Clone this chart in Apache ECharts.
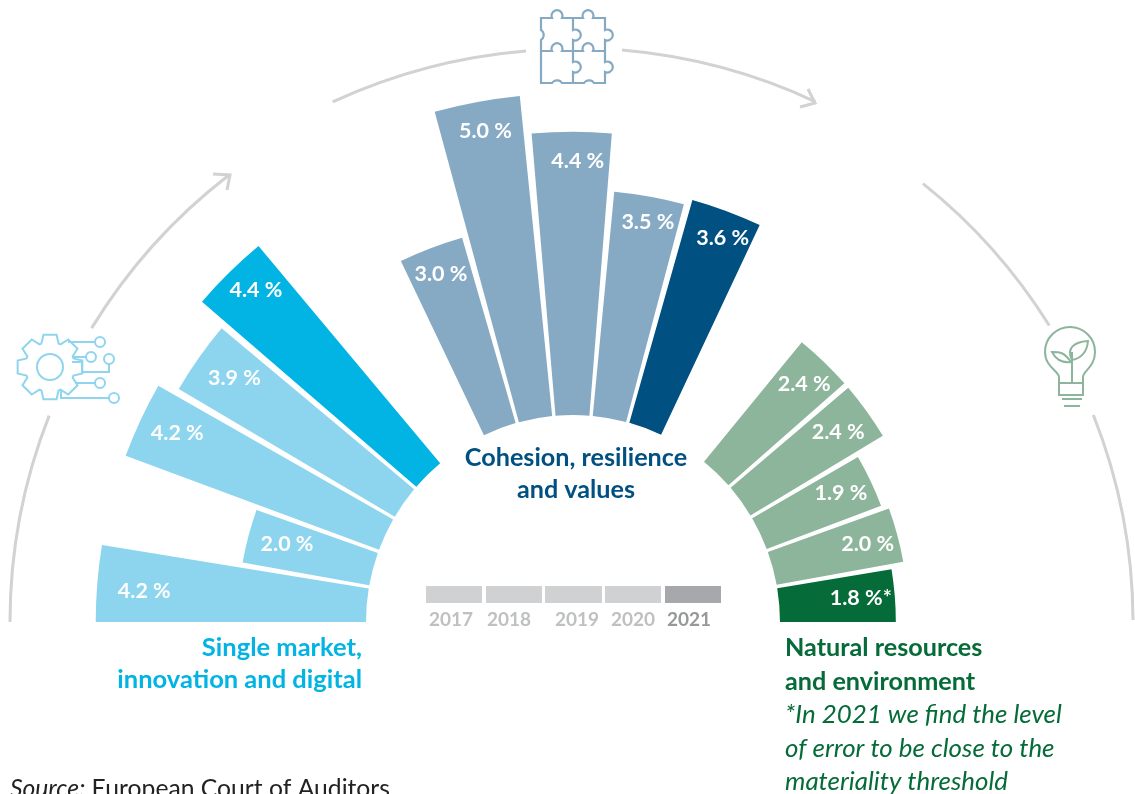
<!DOCTYPE html>
<html><head><meta charset="utf-8">
<style>html,body{margin:0;padding:0;background:#fff}#c{width:1135px;height:794px}</style>
<script src="https://cdn.jsdelivr.net/npm/echarts@6/dist/echarts.min.js"></script></head>
<body><div id="c"></div>
<script>
const years = ['2017','2018','2019','2020','2021'];
const singleMarket = [4.2, 2.0, 4.2, 3.9, 4.4];
const cohesion = [3.0, 5.0, 4.4, 3.5, 3.6];
const naturalResources = [2.4, 2.4, 1.9, 2.0, 1.8];

const FONT = 'Lato, "Open Sans", sans-serif';
const CX = 573, CY = 622, R0 = 207, UNIT = 64.35, VMAX = 5.5;
const rMin = -R0 / UNIT;
const groups = [
  {values: singleMarket, start: 180.46, end: 129.46, light: '#8DD5EE', dark: '#02B4E3',
    nudges: [[33,-4],[25,-7],[24,-4],[24,1],[17,-4]]},
  {values: cohesion, start: 115.95, end: 64.35, light: '#87AAC4', dark: '#005082',
    nudges: [[5,2],[6,4],[6,4],[1,1],[1,3]]},
  {values: naturalResources, start: 51.2, end: -0.46, light: '#8DB59C', dark: '#056B38',
    nudges: [[-10,1],[-17,2],[-17,-5],[-16,-5],[-20,-10]]}
];
const polar = [], angleAxis = [], radiusAxis = [], series = [];
groups.forEach((g, i) => {
  polar.push({center: [CX, CY], radius: [0, (VMAX - rMin) * UNIT]});
  angleAxis.push({polarIndex: i, type: 'category', data: years, startAngle: g.start, endAngle: g.end, clockwise: true, show: false,
    axisLine:{show:false}, axisTick:{show:false}, axisLabel:{show:false}, splitLine:{show:false}});
  radiusAxis.push({polarIndex: i, type: 'value', min: rMin, max: VMAX, show: false,
    axisLine:{show:false}, axisTick:{show:false}, axisLabel:{show:false}, splitLine:{show:false}});
  series.push({type: 'bar', coordinateSystem: 'polar', polarIndex: i, barCategoryGap: '9%', silent: true, animation: false,
    data: g.values.map((v, k) => ({value: v, label: {offset: g.nudges[k]}})),
    itemStyle: {color: p => p.dataIndex === 4 ? g.dark : g.light},
    label: {show: true, position: 'insideEnd', distance: 14, rotate: 0, color: '#fff', fontFamily: FONT, fontWeight: 'bold', fontSize: 21.5,
      formatter: p => p.value.toFixed(1) + ' %' + (i === 2 && p.dataIndex === 4 ? '*' : '')}});
});

const D = Math.PI / 180;
const gray = '#D2D2D2';
const arc = (r, a, b) => ({type: 'arc', silent: true, shape: {cx: CX, cy: CY, r, startAngle: a * D, endAngle: b * D, clockwise: true},
  style: {stroke: gray, lineWidth: 3, fill: null, lineCap: 'butt'}});
const line = (pts, color, w) => ({type: 'polyline', silent: true, shape: {points: pts}, style: {stroke: color, lineWidth: w, fill: null}});
let pathId = 0;
const path = (d, color, w) => {
  const name = 'iconPath' + (pathId++);
  echarts.graphic.registerShape(name, echarts.graphic.extendPath(d, {}));
  return {type: name, silent: true, style: {stroke: color, lineWidth: w, fill: null}};
};
const circ = (x, y, r, color, w) => ({type: 'circle', silent: true, shape: {cx: x, cy: y, r}, style: {stroke: color, lineWidth: w, fill: null}});
const txt = (t, x, y, color, size, weight, align, style) => ({type: 'text', silent: true, x, y,
  style: {text: t, fill: color, fontFamily: FONT, fontSize: size, fontWeight: weight || 'normal', fontStyle: style || 'normal', align: align || 'left', verticalAlign: 'middle'}});

// gear outline
const gearPts = [];
(function(){
  const n = 8, cx = 50, cy = 367, ro = 33, ri = 25;
  for (let i = 0; i < n; i++) {
    const a = i * 2 * Math.PI / n - Math.PI / 2, s = 0.2, t = 0.3;
    [[ri, -t - 0.05], [ro, -s], [ro, s], [ri, t + 0.05]].forEach(([r, o]) => gearPts.push([cx + r * Math.cos(a + o), cy + r * Math.sin(a + o)]));
  }
  gearPts.push(gearPts[0]);
})();
const blue = '#8FD5EE', slate = '#87AAC4', sage = '#8DB59C';
const K = 'A5.5 5.5 0 1 1', N = 'A6 6 0 0 0';
const puzzle = `M541 18H552${K} 562 18H583${K} 593 18H605V30${K} 605 40V62${K} 605 72V83H594${N} 584 83H562${N} 552 83H541V40${N} 541 30Z`
  + `M573 18V30${K} 573 40V62${K} 573 72V83M541 51H552${K} 562 51H583${K} 593 51H605`;

const yearLegend = [[426,482,451],[486,542,509],[545,602,577],[605,661,633],[665,721,689]];
const graphic = [
  arc(563, 180, 201.5), arc(564, 211.4, 232.3), arc(573, 245.2, 265.3), arc(574, 274.9, 295), arc(561, 308.6, 328.1), arc(560, 338.3, 359.8),
  line([[213,174],[230,175],[227,190]], gray, 3), line([[808,89],[815,103],[800,107]], gray, 3),
  line(gearPts, blue, 2), circ(50, 367, 13, blue, 2),
  line([[68,342],[95,342]], blue, 2), circ(100,342,5,blue,2),
  line([[73,357],[86,357]], blue, 2), circ(91,357,5,blue,2),
  circ(109,359,5,blue,2), line([[109,364],[109,372],[82,372],[82,362],[72,362]], blue, 2),
  line([[75,383],[95,383]], blue, 2), circ(100,383,5,blue,2),
  line([[61,390],[61,398],[109,398]], blue, 2), circ(114,398,5,blue,2),
  path(puzzle, slate, 2.2),
  path('M1059 383V377C1059 371 1045 367 1045 352A25 25 0 1 1 1095 352C1095 367 1083 371 1083 377V383Z M1059 383V395H1083V383', sage, 2),
  line([[1062,399],[1082,399]], sage, 2), line([[1064,406],[1080,406]], sage, 2),
  line([[1072,382],[1072,352]], sage, 2),
  path('M1072 360C1066 348 1074 342 1088 341C1087 352 1082 358 1072 360Z', sage, 2),
  path('M1071 362C1064 352 1060 352 1052 352C1056 360 1062 363 1071 362Z', sage, 2),
  txt('Cohesion, resilience', 576, 458, '#005082', 25.2, 'bold', 'center'),
  txt('and values', 576, 490, '#005082', 25.2, 'bold', 'center'),
  txt('Single market,', 362, 648, '#02B4E3', 25.5, 'bold', 'right'),
  txt('innovation and digital', 362, 680, '#02B4E3', 25.5, 'bold', 'right'),
  txt('Natural resources', 785, 648, '#056B38', 25.2, 'bold'),
  txt('and environment', 785, 682, '#056B38', 25.2, 'bold'),
  txt('*In 2021 we find the level', 785, 715, '#056B38', 25.9, 'normal', 'left', 'italic'),
  txt('of error to be close to the', 785, 749, '#056B38', 25.9, 'normal', 'left', 'italic'),
  txt('materiality threshold', 785, 782, '#056B38', 25.9, 'normal', 'left', 'italic'),
  {type: 'text', silent: true, x: 10, y: 789, style: {text: '{i|Source:} {n|European Court of Auditors}', verticalAlign: 'middle', fontFamily: FONT, fontSize: 24.7, fill: '#222',
    rich: {i: {fontStyle: 'italic', fontFamily: FONT, fontSize: 24.7, fill: '#222'}, n: {fontFamily: FONT, fontSize: 24.7, fill: '#222'}}}}
];
years.forEach((y, i) => {
  const [a, b, c] = yearLegend[i];
  graphic.push({type: 'rect', silent: true, shape: {x: a, y: 586, width: b - a, height: 17}, style: {fill: i === 4 ? '#A7A8AB' : '#D0D1D3'}});
  graphic.push(txt(y, c, 620, i === 4 ? '#97989A' : '#BFC0C2', 19, 'bold', 'center'));
});

const chart = echarts.init(document.getElementById('c'), null, {renderer: 'canvas'});
chart.setOption({animation: false, backgroundColor: '#fff', polar, angleAxis, radiusAxis, series, graphic: {elements: graphic}});
</script></body></html>
